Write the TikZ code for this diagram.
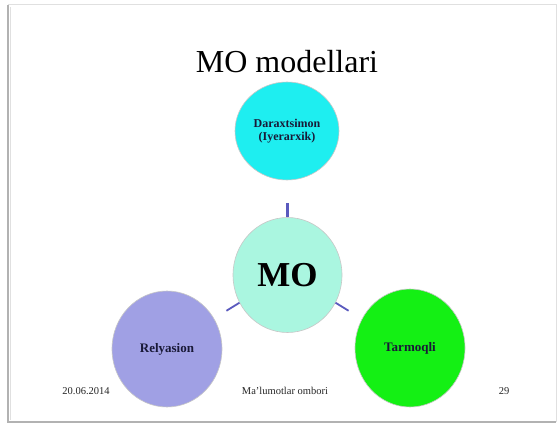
\documentclass[tikz,border=0pt]{standalone}
\usepackage{fontspec}
\setmainfont{Liberation Serif}
\usetikzlibrary{shapes.geometric}
\definecolor{cTop}{RGB}{30,238,240}
\definecolor{cMid}{RGB}{170,246,224}
\definecolor{cRel}{RGB}{160,160,228}
\definecolor{cTar}{RGB}{20,240,20}
\definecolor{cLine}{RGB}{90,90,190}
\definecolor{cTxt}{RGB}{25,25,55}
\tikzset{
  bubble/.style={ellipse, inner sep=0pt, draw=black!22, line width=0.6pt},
  lbl/.style={font=\fontsize{13}{14}\selectfont\bfseries, text=cTxt, align=center},
  foot/.style={font=\fontsize{10.5}{12}\selectfont, text=black!85},
  conn/.style={draw=cLine, line width=1.8pt}
}
\begin{document}
\begin{tikzpicture}[x=1pt,y=-1pt]
\useasboundingbox (0,0) rectangle (559,427);
\fill[white] (0,0) rectangle (559,427);
% slide frame
\draw[black!12, line width=1pt] (8,5) -- (556,5) -- (556,422);
\draw[black!30, line width=2.5pt] (8,5) -- (8,422) -- (556,422);
\draw[black!12, line width=1pt] (10.5,7) -- (10.5,420);
% title
\node[font=\fontsize{32}{36}\selectfont] (title) at (287,62) {MO modellari};
% circles
\node[bubble, fill=cTop, minimum width=104pt, minimum height=98pt, lbl, font=\fontsize{12}{13}\selectfont\bfseries] (top) at (287,131) {Daraxtsimon\\(Iyerarxik)};
\node[bubble, fill=cMid, minimum width=109pt, minimum height=115pt, font=\fontsize{35}{38}\selectfont\bfseries] (mo) at (287.5,275) {MO};
\node[bubble, fill=cRel, minimum width=110pt, minimum height=116pt, lbl] (rel) at (167,349) {Relyasion};
\node[bubble, fill=cTar, minimum width=110pt, minimum height=118pt, lbl] (tar) at (410,348) {Tarmoqli};
% connectors
\draw[conn, line width=2.2pt] (mo.north) -- ++(0,-14);
\draw[conn] (mo.210) -- ++(-13,8);
\draw[conn] (mo.330) -- ++(13,8);
% footer
\node[foot] (date) at (86,391) {20.06.2014};
\node[foot] (ftitle) at (285,391) {Ma’lumotlar ombori};
\node[foot] (num) at (504,391) {29};
\end{tikzpicture}
\end{document}
